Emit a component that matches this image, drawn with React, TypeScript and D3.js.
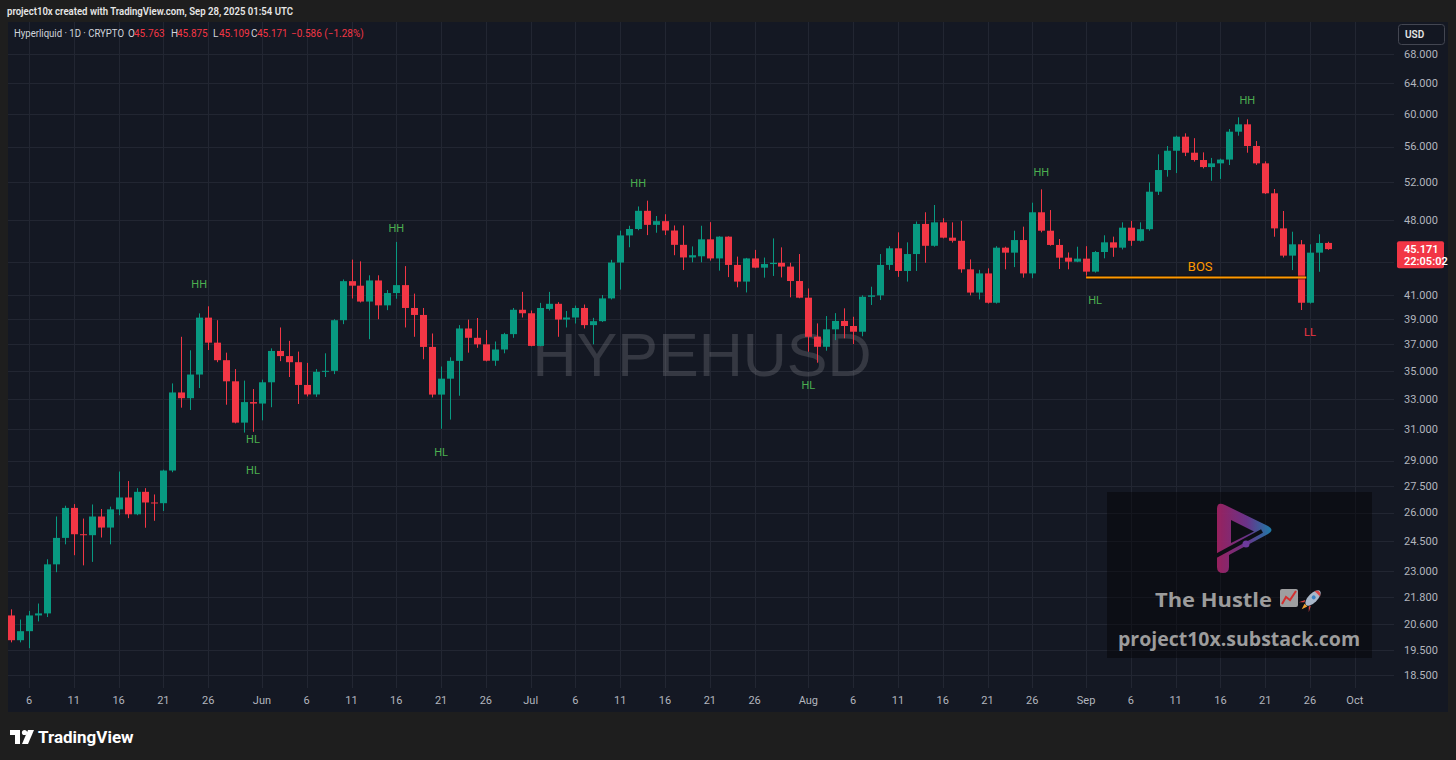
import React from 'react';
import * as d3 from 'd3';

// ---------- DATA ----------
const SYMBOL = 'HYPEHUSD';
const START_DATE = '2025-05-04';

const OPEN = [
  20.96, 19.9, 20.28, 20.96, 21.05, 23.33, 24.66, 26.26, 24.85, 24.8,
  25.79, 25.2, 26.18, 26.84, 25.91, 27.16, 26.56, 26.52, 28.4, 33.45,
  33.05, 34.73, 39.13, 37.13, 35.79, 34.24, 31.4, 32.78, 32.68, 34.17,
  36.49, 36.1, 35.64, 33.98, 33.31, 34.93, 35.0, 38.92, 42.24, 41.84,
  40.47, 42.3, 40.15, 41.2, 41.89, 39.93, 39.35, 36.8, 33.3, 34.43,
  35.74, 38.25, 37.51, 37.0, 35.75, 36.6, 37.8, 39.78, 39.49, 36.88,
  39.85, 40.28, 38.97, 39.14, 39.93, 38.52, 38.84, 40.74, 43.92, 46.49,
  47.12, 48.95, 47.53, 47.9, 46.97, 45.58, 44.39, 44.5, 46.11, 44.3,
  46.37, 43.7, 42.2, 44.3, 43.45, 43.78, 43.9, 43.55, 42.25, 40.8,
  37.6, 36.81, 38.18, 38.86, 38.45, 37.99, 40.88, 41.0, 43.7, 45.25,
  43.15, 44.71, 47.62, 45.49, 47.78, 46.27, 45.97, 43.3, 41.24, 42.93,
  40.37, 45.31, 44.84, 46.04, 42.93, 48.8, 46.95, 45.57, 44.37, 44.0,
  44.28, 43.09, 44.9, 45.82, 45.31, 47.25, 45.97, 47.1, 50.95, 53.32,
  55.52, 57.18, 55.29, 54.45, 53.65, 54.07, 54.5, 57.78, 58.68, 56.07,
  54.07, 50.78, 47.18, 44.56, 45.63, 40.37, 44.84, 45.763,
];
const HIGH = [
  21.23, 20.78, 21.16, 21.49, 23.58, 25.79, 26.38, 26.47, 25.68, 26.45,
  26.2, 26.33, 28.34, 27.78, 27.37, 27.37, 27.01, 28.45, 34.09, 37.59,
  36.54, 39.48, 40.07, 38.92, 36.36, 35.13, 34.29, 33.69, 34.36, 36.69,
  38.33, 37.27, 36.44, 35.59, 35.13, 36.31, 39.0, 42.39, 44.19, 44.03,
  42.76, 42.76, 41.46, 45.86, 43.59, 41.15, 39.93, 37.85, 35.32, 36.01,
  38.52, 38.97, 39.1, 38.12, 37.22, 37.9, 39.93, 41.3, 39.72, 40.36,
  41.3, 40.42, 39.68, 40.13, 40.22, 39.11, 41.03, 44.17, 46.96, 47.44,
  49.4, 50.0, 48.42, 48.6, 47.47, 47.47, 45.43, 47.44, 47.8, 46.4,
  46.4, 44.47, 44.35, 45.1, 44.38, 46.2, 45.34, 43.9, 44.71, 41.6,
  38.66, 39.26, 39.5, 39.9, 39.2, 41.0, 41.75, 44.71, 45.45, 46.79,
  45.82, 47.86, 48.8, 49.55, 48.2, 47.78, 47.93, 44.21, 43.25, 43.39,
  45.45, 45.4, 46.95, 47.35, 49.79, 51.2, 49.03, 46.14, 44.86, 45.4,
  45.45, 45.0, 46.5, 46.37, 47.78, 47.93, 47.78, 51.96, 55.1, 56.07,
  57.3, 57.58, 57.0, 55.33, 54.69, 54.6, 58.1, 59.55, 59.3, 56.66,
  54.3, 51.24, 48.93, 46.85, 46.04, 45.63, 46.6, 45.875,
];
const LOW = [
  19.81, 19.81, 19.57, 20.7, 20.89, 22.95, 24.33, 23.78, 23.28, 23.45,
  24.68, 24.33, 25.86, 25.7, 25.86, 25.19, 25.56, 26.09, 28.3, 32.4,
  32.24, 33.76, 36.56, 35.64, 32.6, 31.35, 30.75, 30.8, 31.55, 32.43,
  35.72, 34.55, 32.65, 33.17, 33.14, 34.55, 34.76, 38.6, 40.73, 40.39,
  37.4, 39.0, 39.75, 40.71, 38.33, 37.59, 35.86, 33.1, 31.0, 31.6,
  33.22, 36.36, 36.73, 35.7, 35.37, 36.31, 37.51, 39.14, 36.85, 36.85,
  39.72, 37.59, 38.33, 38.65, 38.25, 37.0, 38.78, 40.65, 41.5, 45.35,
  47.0, 46.52, 46.75, 46.52, 44.6, 43.24, 43.94, 43.94, 44.1, 43.18,
  42.6, 41.7, 41.25, 43.4, 42.55, 42.7, 42.57, 40.83, 40.75, 36.43,
  35.6, 36.51, 37.33, 37.47, 37.02, 37.63, 40.18, 40.6, 43.25, 42.62,
  42.2, 43.15, 43.9, 45.4, 46.2, 45.8, 42.99, 41.0, 40.65, 40.3,
  40.3, 43.3, 43.5, 42.55, 42.5, 46.79, 45.5, 43.33, 43.3, 43.95,
  42.57, 43.0, 44.31, 44.45, 45.14, 45.49, 45.9, 46.95, 50.6, 52.58,
  52.98, 54.9, 54.27, 53.5, 52.13, 52.33, 53.88, 57.3, 55.29, 53.9,
  50.7, 46.36, 44.39, 43.23, 39.76, 40.3, 43.08, 45.109,
];
const CLOSE = [
  19.9, 20.28, 20.96, 21.05, 23.33, 24.66, 26.26, 24.85, 24.8, 25.79,
  25.2, 26.18, 26.84, 25.91, 27.16, 26.56, 26.52, 28.4, 33.45, 33.05,
  34.73, 39.13, 37.13, 35.79, 34.24, 31.4, 32.78, 32.68, 34.17, 36.49,
  36.1, 35.64, 33.98, 33.31, 34.93, 35.0, 38.92, 42.24, 41.84, 40.47,
  42.3, 40.15, 41.2, 41.89, 39.93, 39.35, 36.8, 33.3, 34.43, 35.74,
  38.25, 37.51, 37.0, 35.75, 36.6, 37.8, 39.78, 39.49, 36.88, 39.93,
  40.28, 38.97, 39.14, 39.93, 38.52, 38.84, 40.74, 43.92, 46.49, 47.12,
  48.95, 47.53, 47.9, 46.97, 45.58, 44.39, 44.6, 46.11, 44.3, 46.37,
  43.7, 42.2, 44.3, 43.45, 43.78, 43.9, 43.55, 42.25, 40.8, 37.59,
  36.81, 38.18, 38.86, 38.45, 37.99, 40.88, 41.0, 43.7, 45.25, 43.15,
  44.71, 47.62, 45.49, 47.78, 46.27, 45.97, 43.3, 41.24, 42.93, 40.37,
  45.31, 44.84, 46.04, 42.93, 48.8, 46.95, 45.57, 44.37, 44.0, 44.28,
  43.09, 44.9, 45.82, 45.31, 47.25, 45.97, 47.1, 50.95, 53.32, 55.52,
  57.18, 55.29, 54.45, 53.65, 54.07, 54.5, 57.78, 58.68, 56.07, 54.07,
  50.78, 47.18, 44.56, 45.63, 40.37, 44.84, 45.76, 45.171,
];

// grid levels; the label of the 44.000 level is hidden behind the last-price tag
const PRICE_TICKS = [68, 64, 60, 56, 52, 48, 44, 41, 39, 37, 35, 33, 31, 29, 27.5, 26, 24.5, 23, 21.8, 20.6, 19.5, 18.5];
const PRICE_LABELS = [68, 64, 60, 56, 52, 48, 41, 39, 37, 35, 33, 31, 29, 27.5, 26, 24.5, 23, 21.8, 20.6, 19.5, 18.5];
const TIME_TICKS = [
  '2025-05-06', '2025-05-11', '2025-05-16', '2025-05-21', '2025-05-26',
  '2025-06-01', '2025-06-06', '2025-06-11', '2025-06-16', '2025-06-21', '2025-06-26',
  '2025-07-01', '2025-07-06', '2025-07-11', '2025-07-16', '2025-07-21', '2025-07-26',
  '2025-08-01', '2025-08-06', '2025-08-11', '2025-08-16', '2025-08-21', '2025-08-26',
  '2025-09-01', '2025-09-06', '2025-09-11', '2025-09-16', '2025-09-21', '2025-09-26',
  '2025-10-01',
];

const MARKER_TEXT = ['HH', 'HL', 'HL', 'HH', 'HL', 'HH', 'HL', 'HH', 'HL', 'HH', 'LL'];
const MARKER_DATE = ['2025-05-25', '2025-05-31', '2025-05-31', '2025-06-16', '2025-06-21', '2025-07-13', '2025-08-01', '2025-08-27', '2025-09-02', '2025-09-19', '2025-09-26'];
const MARKER_PRICE = [41.98, 30.34, 28.43, 47.21, 29.52, 51.89, 33.96, 53.09, 40.6, 61.75, 37.96];

const BOS_TEXT = 'BOS';
const BOS_START = '2025-09-01';
const BOS_END = '2025-09-25T14:00';
const BOS_PRICE = 42.57;
const BOS_LABEL_PRICE = 43.6;

const LAST_PRICE = 45.171;
const COUNTDOWN = '22:05:02';
const HEADER_TEXT = 'project10x created with TradingView.com, Sep 28, 2025 01:54 UTC';
const LEGEND_NAME = 'Hyperliquid · 1D · CRYPTO';
const LEGEND_KEYS = ['O', 'H', 'L', 'C'];
const LEGEND_VALUES = ['45.763', '45.875', '45.109', '45.171'];
const LEGEND_CHANGE = '−0.586 (−1.28%)';
const BRAND_TITLE = 'The Hustle';
const BRAND_URL = 'project10x.substack.com';

// ---------- STYLE ----------
const W = 1456;
const H = 760;
const OUTER = '#1e1e1e';
const PANEL = '#141823';
const GRID = '#222632';
const TEXT = '#b2b5be';
const UP = '#089981';
const DOWN = '#f23645';
const GREEN_LABEL = '#4caf50';
const ORANGE = '#ff9800';
const FONT = 'Roboto, "Liberation Sans", sans-serif';

const toDate = (s: string) => new Date(s.length === 10 ? s + 'T00:00:00Z' : s + ':00Z');

export default function App() {
  const start = toDate(START_DATE);
  const dates = d3.utcDay.range(start, d3.utcDay.offset(start, OPEN.length));
  const candles = dates.map((d, i) => ({ d, o: OPEN[i], h: HIGH[i], l: LOW[i], c: CLOSE[i] }));

  const x = d3.scaleUtc().domain([toDate('2025-05-04'), toDate('2025-10-01')]).range([11.1, 1354.8]);
  const y = d3.scaleLog().domain([18.5, 68]).range([675, 54]);
  const fmt = d3.format('.3f');
  const monthFmt = d3.utcFormat('%b');
  const dayFmt = d3.utcFormat('%-d');

  const plotL = 8, plotR = 1394, plotT = 22, plotB = 688;
  const legendKeyX = [128, 171, 213, 251];

  return (
    <svg width={W} height={H} style={{ position: 'absolute', left: 0, top: 0, display: 'block' }} fontFamily={FONT}>
      <defs>
        <clipPath id="plot">
          <rect x={plotL} y={plotT} width={plotR - plotL} height={plotB - plotT} />
        </clipPath>
        <linearGradient id="logoGrad" x1="0" y1="0" x2="1" y2="0">
          <stop offset="0%" stopColor="#b0246a" />
          <stop offset="55%" stopColor="#7a3a9e" />
          <stop offset="100%" stopColor="#1f8fc2" />
        </linearGradient>
      </defs>
      <rect x={0} y={0} width={W} height={H} fill={OUTER} />
      <text x={7} y={15} fontSize={10.5} fontWeight={600} fill="#e6e6e6" textLength={286} lengthAdjust="spacingAndGlyphs">{HEADER_TEXT}</text>

      {/* panel */}
      <rect x={8} y={22} width={1440} height={690} fill={PANEL} />

      {/* grid */}
      <g clipPath="url(#plot)">
        {PRICE_TICKS.map((p) => (
          <line key={'hg' + p} x1={plotL} x2={plotR} y1={Math.round(y(p)) + 0.5} y2={Math.round(y(p)) + 0.5} stroke={GRID} strokeWidth={1} />
        ))}
        {TIME_TICKS.map((t) => (
          <line key={'vg' + t} x1={Math.round(x(toDate(t))) + 0.5} x2={Math.round(x(toDate(t))) + 0.5} y1={plotT} y2={plotB} stroke={GRID} strokeWidth={1} />
        ))}
      </g>

      {/* watermark symbol */}
      <text x={702} y={376} textAnchor="middle" fontSize={61} fontFamily='"Liberation Sans", Arial, sans-serif' fill="#ffffff" fillOpacity={0.14}>{SYMBOL}</text>

      {/* candles */}
      <g clipPath="url(#plot)">
        {candles.map((k, i) => {
          const cx = Math.round(x(k.d));
          const col = k.c >= k.o ? UP : DOWN;
          const top = y(Math.max(k.o, k.c));
          const bot = y(Math.min(k.o, k.c));
          return (
            <g key={i}>
              <line x1={cx + 0.5} x2={cx + 0.5} y1={y(k.h)} y2={y(k.l)} stroke={col} strokeWidth={1} />
              <rect x={cx - 3} y={top} width={7} height={Math.max(1, bot - top)} fill={col} />
            </g>
          );
        })}
      </g>

      {/* BOS line */}
      <line x1={x(toDate(BOS_START))} x2={x(toDate(BOS_END))} y1={y(BOS_PRICE)} y2={y(BOS_PRICE)} stroke="#000" strokeOpacity={0.5} strokeWidth={4} />
      <line x1={x(toDate(BOS_START))} x2={x(toDate(BOS_END))} y1={y(BOS_PRICE)} y2={y(BOS_PRICE)} stroke={ORANGE} strokeWidth={2} />
      <text x={(x(toDate(BOS_START)) + x(toDate(BOS_END))) / 2 + 4} y={y(BOS_LABEL_PRICE)} dy="0.35em" textAnchor="middle" fontSize={13} fill={ORANGE}>{BOS_TEXT}</text>

      {/* markers */}
      {MARKER_TEXT.map((t, i) => (
        <text key={'m' + i} x={x(toDate(MARKER_DATE[i]))} y={y(MARKER_PRICE[i])} dy="0.35em" textAnchor="middle" fontSize={11} fill={t === 'LL' ? DOWN : GREEN_LABEL}>{t}</text>
      ))}

      {/* brand box */}
      <g>
        <rect x={1107} y={492} width={265} height={166} fill="#000" fillOpacity={0.4} />
        <path d="M1217,509 Q1217,501 1225,505 L1268,526 Q1275,530 1268,534 L1229,555 L1229,567 Q1229,573 1223,573 Q1217,573 1217,567 Z" fill="url(#logoGrad)" opacity={0.85} />
        <path d="M1231,520 L1254,531.5 L1231,543 Z" fill="#0c0e14" />
        <line x1={1214} y1={557} x2={1262} y2={531} stroke="#0c0e14" strokeWidth={4} />
        <circle cx={1246} cy={544} r={3.5} fill="#6d3a9c" />
        <text x={1155} y={607} fontSize={20} fontWeight={700} fontFamily='"Open Sans", sans-serif' fill="#9c9c9c" textLength={117} lengthAdjust="spacingAndGlyphs">{BRAND_TITLE}</text>
        <rect x={1280} y={589} width={18} height={18} rx={2} fill="#cfcfcf" fillOpacity={0.75} />
        <polyline points="1282,604 1286,597 1290,600 1296,591" fill="none" stroke="#d32f2f" strokeWidth={2} />
        <g transform="translate(1313,598) rotate(-45)">
          <ellipse cx={0} cy={0} rx={10} ry={4.5} fill="#a9b7c9" />
          <path d="M6,-4 Q12,0 6,4 Z" fill="#d84343" />
          <circle cx={1} cy={0} r={2} fill="#3b82c4" />
          <path d="M-9,-3 L-13,-7 L-7,-4 Z M-9,3 L-13,7 L-7,4 Z" fill="#d84343" />
          <path d="M-10,-2 L-16,0 L-10,2 Z" fill="#f0a030" />
        </g>
        <text x={1239} y={646} textAnchor="middle" fontSize={19.5} fontWeight={700} fontFamily='"Open Sans", sans-serif' fill="#9c9c9c">{BRAND_URL}</text>
      </g>

      {/* legend */}
      <g fontSize={10}>
        <text x={14} y={37} fill="#d1d4dc" textLength={110} lengthAdjust="spacingAndGlyphs">{LEGEND_NAME}</text>
        {LEGEND_KEYS.map((k, i) => (
          <g key={k}>
            <text x={legendKeyX[i]} y={37} fill="#d1d4dc">{k}</text>
            <text x={legendKeyX[i] + 6} y={37} fill={DOWN}>{LEGEND_VALUES[i]}</text>
          </g>
        ))}
        <text x={291} y={37} fill={DOWN}>{LEGEND_CHANGE}</text>
      </g>

      {/* price axis */}
      <g fontSize={11} fill={TEXT}>
        {PRICE_LABELS.map((p) => (
          <text key={'pl' + p} x={1404} y={y(p)} dy="0.35em">{fmt(p)}</text>
        ))}
      </g>
      <rect x={1398.5} y={24.5} width={46} height={20} rx={3} fill="#131722" stroke="#434651" />
      <text x={1405} y={38} fontSize={10} fontWeight={600} fill="#e6e6e6">USD</text>
      <rect x={1397} y={y(LAST_PRICE) - 8} width={47} height={27} rx={2} fill={DOWN} />
      <text x={1404} y={y(LAST_PRICE)} dy="0.35em" fontSize={11} fontWeight={600} fill="#fff">{fmt(LAST_PRICE)}</text>
      <text x={1404} y={y(LAST_PRICE) + 12} dy="0.35em" fontSize={11} fontWeight={600} fill="#fff">{COUNTDOWN}</text>

      {/* time axis */}
      <g fontSize={11} fill={TEXT}>
        {TIME_TICKS.map((t) => {
          const d = toDate(t);
          const lab = d.getUTCDate() === 1 ? monthFmt(d) : dayFmt(d);
          return (
            <text key={'tl' + t} x={x(d)} y={704} textAnchor="middle">{lab}</text>
          );
        })}
      </g>

      {/* TradingView logo */}
      <g fill="#ffffff">
        <rect x={10} y={730} width={10} height={5} />
        <rect x={15} y={730} width={5} height={14} />
        <circle cx={24.5} cy={732.5} r={2.6} />
        <polygon points="22,744 28,730 34,730 28,744" />
        <text x={38} y={743} fontSize={17} fontWeight={700}>TradingView</text>
      </g>
    </svg>
  );
}
